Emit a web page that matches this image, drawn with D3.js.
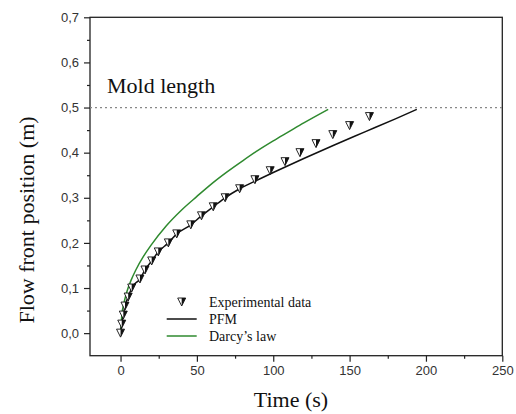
<!DOCTYPE html>
<html><head><meta charset="utf-8">
<script src="https://cdn.jsdelivr.net/npm/d3@7"></script>
<style>body{margin:0;background:#fff}svg{display:block}</style>
</head><body><svg id="c" width="516" height="414"></svg>
<script>
// Experimental data (time s, flow front m)
const expTime = [0, 0.8, 1.8, 2.9, 5, 7.3, 12.7, 16, 20.4, 24.7, 31.3, 36.8, 46, 53, 60.7, 68.5, 78, 88, 98, 107.7, 117.5, 128, 139, 150, 163];
const expPos  = [0, 0.02, 0.04, 0.06, 0.08, 0.10, 0.12, 0.14, 0.16, 0.18, 0.20, 0.22, 0.24, 0.26, 0.28, 0.30, 0.32, 0.34, 0.36, 0.38, 0.40, 0.42, 0.44, 0.46, 0.48];
// PFM model
const pfmTime = [0, 0.8, 1.8, 2.9, 5, 7.3, 12.7, 16, 20.4, 24.7, 31.3, 36.8, 46, 53, 60.7, 68.5, 78, 90, 100, 120, 140, 160, 180, 194];
const pfmPos  = [0, 0.02, 0.04, 0.06, 0.08, 0.10, 0.12, 0.14, 0.16, 0.18, 0.20, 0.22, 0.24, 0.26, 0.28, 0.30, 0.32, 0.34, 0.356, 0.387, 0.417, 0.446, 0.475, 0.496];
// Darcy's law
const darcyTime = [0, 1, 2, 4, 7, 10, 15, 20, 30, 40, 50, 60, 70, 80, 90, 100, 110, 120, 130, 136];
const darcyPos  = [0, 0.045, 0.063, 0.09, 0.118, 0.14, 0.17, 0.195, 0.238, 0.273, 0.303, 0.332, 0.358, 0.382, 0.405, 0.426, 0.446, 0.466, 0.485, 0.496];
const xTicks = [0, 50, 100, 150, 200, 250];
const yTicks = [0, 0.1, 0.2, 0.3, 0.4, 0.5, 0.6, 0.7];
const moldLength = 0.5;
const legendLabels = ["Experimental data", "PFM", "Darcy\u2019s law"];

const svg = d3.select("#c");
const L = 90, R = 502.3, T = 17.3, B = 355.7;
const x = d3.scaleLinear().domain([-20, 250]).range([L, R]);
const y = d3.scaleLinear().domain([-0.05, 0.7]).range([B, T]);
const fmt = d => d3.format(".1f")(d).replace(".", ",");
const tickCol = "#333";

// frame
svg.append("rect").attr("x", L).attr("y", T).attr("width", R - L).attr("height", B - T)
  .attr("fill", "none").attr("stroke", "#222").attr("stroke-width", 1.3);

// x axis
const xa = svg.append("g").attr("transform", `translate(0,${B})`)
  .call(d3.axisBottom(x).tickValues(xTicks).tickSize(6).tickPadding(4).tickFormat(d3.format("d")));
xa.select(".domain").remove();
xa.selectAll("line").attr("stroke", "#222").attr("stroke-width", 1.2);
xa.selectAll("text").attr("font-family", "Liberation Sans, Arial, sans-serif").attr("font-size", 13).attr("fill", tickCol);
const xm = svg.append("g").attr("transform", `translate(0,${B})`)
  .call(d3.axisBottom(x).tickValues([25, 75, 125, 175, 225]).tickSize(3).tickFormat(""));
xm.select(".domain").remove();
xm.selectAll("line").attr("stroke", "#222").attr("stroke-width", 1.2);

// y axis
const ya = svg.append("g").attr("transform", `translate(${L},0)`)
  .call(d3.axisLeft(y).tickValues(yTicks).tickSize(6).tickPadding(5).tickFormat(fmt));
ya.select(".domain").remove();
ya.selectAll("line").attr("stroke", "#222").attr("stroke-width", 1.2);
ya.selectAll("text").attr("font-family", "Liberation Sans, Arial, sans-serif").attr("font-size", 13).attr("fill", tickCol);
const ym = svg.append("g").attr("transform", `translate(${L},0)`)
  .call(d3.axisLeft(y).tickValues([0.05, 0.15, 0.25, 0.35, 0.45, 0.55, 0.65]).tickSize(3).tickFormat(""));
ym.select(".domain").remove();
ym.selectAll("line").attr("stroke", "#222").attr("stroke-width", 1.2);

// mold length line
svg.append("line").attr("x1", L).attr("x2", R).attr("y1", y(moldLength)).attr("y2", y(moldLength))
  .attr("stroke", "#888").attr("stroke-width", 1.2).attr("stroke-dasharray", "2,3");
svg.append("text").attr("x", 107).attr("y", 93).text("Mold length")
  .attr("font-family", "Liberation Serif, Times New Roman, serif").attr("font-size", 22).attr("fill", "#111");

// curves
const line = d3.line().x(d => x(d[0])).y(d => y(d[1])).curve(d3.curveMonotoneX);
svg.append("path").datum(darcyTime.map((t, i) => [t, darcyPos[i]])).attr("d", line)
  .attr("fill", "none").attr("stroke", "#2f8a2f").attr("stroke-width", 1.5);
svg.append("path").datum(pfmTime.map((t, i) => [t, pfmPos[i]])).attr("d", line)
  .attr("fill", "none").attr("stroke", "#111").attr("stroke-width", 1.5);

// triangle markers
function tri(g, cx, cy, s) {
  const h = s;
  g.append("path").attr("d", `M${cx - s / 2},${cy - h / 2}L${cx + s / 2},${cy - h / 2}L${cx},${cy + h / 2}Z`)
    .attr("fill", "#fff").attr("stroke", "#111").attr("stroke-width", 0.9);
  g.append("path").attr("d", `M${cx},${cy - h / 2}L${cx + s / 2},${cy - h / 2}L${cx},${cy + h / 2}Z`)
    .attr("fill", "#111");
}
const mg = svg.append("g");
expTime.forEach((t, i) => tri(mg, x(t), y(expPos[i]), 8));

// legend
const lg = svg.append("g");
const lx = 166.7, lx2 = 196.7, ltx = 209;
const ly = [302, 319, 336];
tri(lg, (lx + lx2) / 2, ly[0], 8);
lg.append("line").attr("x1", lx).attr("x2", lx2).attr("y1", ly[1]).attr("y2", ly[1]).attr("stroke", "#111").attr("stroke-width", 1.5);
lg.append("line").attr("x1", lx).attr("x2", lx2).attr("y1", ly[2]).attr("y2", ly[2]).attr("stroke", "#2f8a2f").attr("stroke-width", 1.5);
legendLabels.forEach((s, i) => lg.append("text").attr("x", ltx).attr("y", ly[i] + 5).text(s)
  .attr("font-family", "Liberation Serif, Times New Roman, serif").attr("font-size", 14).attr("fill", "#111"));

// axis titles
svg.append("text").attr("x", 291).attr("y", 407).attr("text-anchor", "middle").text("Time (s)")
  .attr("font-family", "Liberation Serif, Times New Roman, serif").attr("font-size", 22).attr("fill", "#111");
svg.append("text").attr("transform", "translate(34,220) rotate(-90)").attr("text-anchor", "middle").text("Flow front position (m)")
  .attr("font-family", "Liberation Serif, Times New Roman, serif").attr("font-size", 22).attr("fill", "#111");
</script></body></html>
